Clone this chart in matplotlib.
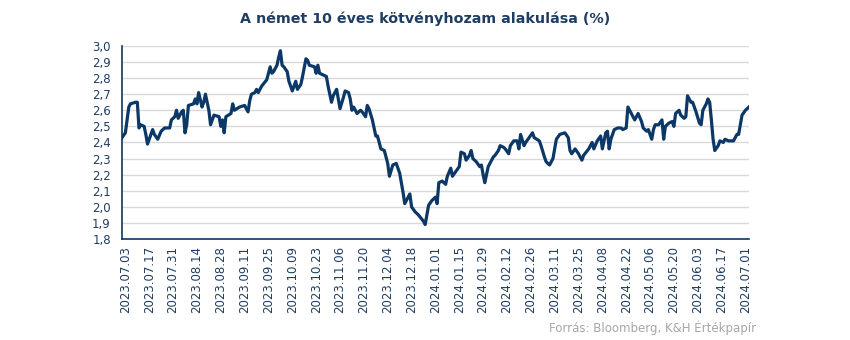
import pandas as pd
import matplotlib
matplotlib.use('Agg')
import matplotlib.pyplot as plt
import matplotlib.dates as mdates
from matplotlib.ticker import FuncFormatter

# German 10y Bund yield, %
dates = ['2023-07-01', '2023-07-03', '2023-07-05', '2023-07-06', '2023-07-09', '2023-07-10',
         '2023-07-11', '2023-07-12', '2023-07-14', '2023-07-15', '2023-07-16', '2023-07-19',
         '2023-07-20', '2023-07-22', '2023-07-24', '2023-07-26', '2023-07-29', '2023-07-30',
         '2023-08-01', '2023-08-02', '2023-08-03', '2023-08-05', '2023-08-06', '2023-08-07',
         '2023-08-08', '2023-08-09', '2023-08-12', '2023-08-13', '2023-08-14', '2023-08-15',
         '2023-08-17', '2023-08-18', '2023-08-19', '2023-08-21', '2023-08-22', '2023-08-23',
         '2023-08-24', '2023-08-27', '2023-08-28', '2023-08-29', '2023-08-30', '2023-08-31',
         '2023-09-03', '2023-09-04', '2023-09-05', '2023-09-08', '2023-09-11', '2023-09-13',
         '2023-09-14', '2023-09-15', '2023-09-17', '2023-09-18', '2023-09-19', '2023-09-21',
         '2023-09-24', '2023-09-26', '2023-09-27', '2023-09-28', '2023-09-30', '2023-10-01',
         '2023-10-02', '2023-10-03', '2023-10-04', '2023-10-06', '2023-10-07', '2023-10-09',
         '2023-10-11', '2023-10-12', '2023-10-14', '2023-10-15', '2023-10-17', '2023-10-18',
         '2023-10-19', '2023-10-22', '2023-10-23', '2023-10-24', '2023-10-25', '2023-10-27',
         '2023-10-29', '2023-10-30', '2023-11-01', '2023-11-02', '2023-11-04', '2023-11-05',
         '2023-11-06', '2023-11-08', '2023-11-09', '2023-11-11', '2023-11-12', '2023-11-13',
         '2023-11-14', '2023-11-16', '2023-11-18', '2023-11-19', '2023-11-21', '2023-11-22',
         '2023-11-23', '2023-11-25', '2023-11-27', '2023-11-28', '2023-11-30', '2023-12-02',
         '2023-12-04', '2023-12-05', '2023-12-07', '2023-12-09', '2023-12-11', '2023-12-13',
         '2023-12-14', '2023-12-16', '2023-12-17', '2023-12-18', '2023-12-20', '2023-12-22',
         '2023-12-25', '2023-12-26', '2023-12-28', '2023-12-30', '2024-01-01', '2024-01-02',
         '2024-01-03', '2024-01-05', '2024-01-07', '2024-01-08', '2024-01-10', '2024-01-11',
         '2024-01-13', '2024-01-15', '2024-01-16', '2024-01-18', '2024-01-19', '2024-01-21',
         '2024-01-22', '2024-01-23', '2024-01-25', '2024-01-27', '2024-01-28', '2024-01-29',
         '2024-01-30', '2024-02-01', '2024-02-03', '2024-02-04', '2024-02-05', '2024-02-07',
         '2024-02-08', '2024-02-10', '2024-02-11', '2024-02-13', '2024-02-14', '2024-02-16',
         '2024-02-18', '2024-02-19', '2024-02-20', '2024-02-22', '2024-02-23', '2024-02-25',
         '2024-02-27', '2024-02-28', '2024-03-02', '2024-03-03', '2024-03-05', '2024-03-06',
         '2024-03-08', '2024-03-10', '2024-03-12', '2024-03-14', '2024-03-17', '2024-03-19',
         '2024-03-20', '2024-03-21', '2024-03-23', '2024-03-25', '2024-03-27', '2024-03-28',
         '2024-03-31', '2024-04-02', '2024-04-03', '2024-04-05', '2024-04-07', '2024-04-08',
         '2024-04-10', '2024-04-11', '2024-04-12', '2024-04-13', '2024-04-15', '2024-04-17',
         '2024-04-19', '2024-04-20', '2024-04-22', '2024-04-23', '2024-04-24', '2024-04-26',
         '2024-04-27', '2024-04-29', '2024-05-01', '2024-05-02', '2024-05-04', '2024-05-05',
         '2024-05-07', '2024-05-08', '2024-05-09', '2024-05-11', '2024-05-13', '2024-05-14',
         '2024-05-15', '2024-05-17', '2024-05-19', '2024-05-20', '2024-05-21', '2024-05-23',
         '2024-05-24', '2024-05-26', '2024-05-27', '2024-05-28', '2024-05-30', '2024-05-31',
         '2024-06-02', '2024-06-04', '2024-06-05', '2024-06-06', '2024-06-08', '2024-06-09',
         '2024-06-10', '2024-06-11', '2024-06-12', '2024-06-13', '2024-06-15', '2024-06-16',
         '2024-06-18', '2024-06-19', '2024-06-21', '2024-06-23', '2024-06-24', '2024-06-26',
         '2024-06-27', '2024-06-28', '2024-06-29', '2024-07-01', '2024-07-02', '2024-07-03']

yields = [2.43, 2.46, 2.62, 2.64, 2.65, 2.65,
          2.49, 2.51, 2.50, 2.45, 2.39, 2.48,
          2.45, 2.42, 2.47, 2.49, 2.49, 2.54,
          2.56, 2.60, 2.55, 2.59, 2.60, 2.46,
          2.51, 2.63, 2.64, 2.67, 2.64, 2.71,
          2.62, 2.65, 2.70, 2.60, 2.51, 2.54,
          2.57, 2.56, 2.50, 2.54, 2.46, 2.56,
          2.58, 2.64, 2.60, 2.62, 2.63, 2.59,
          2.66, 2.70, 2.71, 2.73, 2.71, 2.75,
          2.79, 2.87, 2.83, 2.84, 2.88, 2.93,
          2.97, 2.88, 2.87, 2.84, 2.78, 2.72,
          2.78, 2.73, 2.76, 2.81, 2.92, 2.91,
          2.88, 2.87, 2.83, 2.88, 2.83, 2.82,
          2.81, 2.75, 2.65, 2.69, 2.73, 2.67,
          2.61, 2.68, 2.72, 2.71, 2.67, 2.60,
          2.62, 2.58, 2.60, 2.59, 2.56, 2.63,
          2.61, 2.54, 2.44, 2.44, 2.36, 2.35,
          2.27, 2.19, 2.26, 2.27, 2.21, 2.09,
          2.02, 2.06, 2.08, 2.00, 1.97, 1.95,
          1.91, 1.89, 2.01, 2.04, 2.06, 2.02,
          2.15, 2.16, 2.14, 2.19, 2.24, 2.19,
          2.22, 2.25, 2.34, 2.33, 2.29, 2.32,
          2.35, 2.30, 2.28, 2.25, 2.26, 2.20,
          2.15, 2.25, 2.29, 2.31, 2.32, 2.35,
          2.38, 2.37, 2.36, 2.33, 2.38, 2.41,
          2.41, 2.36, 2.45, 2.38, 2.40, 2.43,
          2.46, 2.43, 2.41, 2.38, 2.31, 2.28,
          2.26, 2.30, 2.42, 2.45, 2.46, 2.43,
          2.35, 2.33, 2.36, 2.33, 2.29, 2.32,
          2.36, 2.40, 2.36, 2.41, 2.44, 2.36,
          2.46, 2.47, 2.36, 2.42, 2.48, 2.49,
          2.49, 2.48, 2.49, 2.62, 2.60, 2.56,
          2.54, 2.58, 2.53, 2.49, 2.47, 2.48,
          2.42, 2.48, 2.51, 2.51, 2.54, 2.42,
          2.50, 2.52, 2.53, 2.50, 2.58, 2.60,
          2.57, 2.55, 2.56, 2.69, 2.65, 2.65,
          2.59, 2.52, 2.51, 2.60, 2.64, 2.67,
          2.65, 2.54, 2.42, 2.35, 2.38, 2.41,
          2.40, 2.42, 2.41, 2.41, 2.41, 2.45,
          2.45, 2.51, 2.57, 2.60, 2.61, 2.62]

title = 'A német 10 éves kötvényhozam alakulása (%)'
source = 'Forrás: Bloomberg, K&H Értékpapír'

navy = '#0b3866'
text_col = '#1f3d63'

x = pd.to_datetime(dates)
ticks = pd.date_range('2023-07-03', '2024-07-01', freq='14D')

fig = plt.figure(figsize=(8.5, 3.4), dpi=100)
ax = fig.add_axes([0.1435, 0.297, 0.7375, 0.568])

ax.plot(x, yields, color=navy, lw=2.3, solid_joinstyle='round', zorder=3)

ax.set_ylim(1.8, 3.0)
ax.set_yticks([1.8 + 0.1 * i for i in range(13)])
ax.yaxis.set_major_formatter(FuncFormatter(lambda v, p: f'{v:.1f}'.replace('.', ',')))
ax.grid(axis='y', color='#d9d9d9', lw=1, zorder=0)

ax.set_xlim(x[0], x[-1])
ax.set_xticks(ticks)
ax.xaxis.set_major_formatter(mdates.DateFormatter('%Y.%m.%d'))
plt.setp(ax.get_xticklabels(), rotation=90)

ax.tick_params(axis='both', length=0, labelsize=8.5, labelcolor=text_col)
ax.tick_params(axis='y', pad=8)
ax.tick_params(axis='x', pad=5)

for s in ['top', 'right']:
    ax.spines[s].set_visible(False)
ax.spines['left'].set_color(navy)
ax.spines['bottom'].set_color(navy)
ax.spines['left'].set_linewidth(1.2)
ax.spines['bottom'].set_linewidth(1.2)

fig.text(0.5, 0.945, title, ha='center', va='center', fontsize=10.3,
         fontweight='bold', color=text_col)
fig.text(0.889, 0.035, source, ha='right', va='center', fontsize=8.5,
         color='#a6a6a6', family=['Liberation Sans Narrow', 'DejaVu Sans'])

fig.savefig('out.png', dpi=100)
